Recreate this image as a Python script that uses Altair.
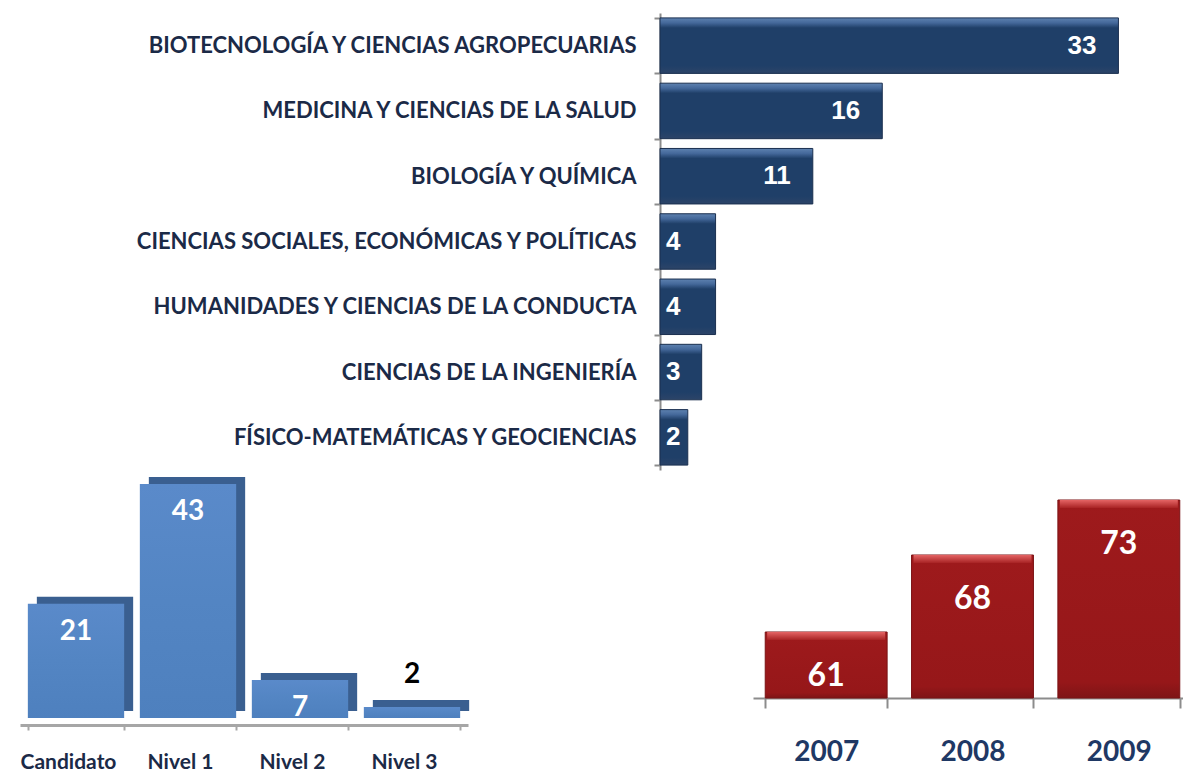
import altair as alt
import pandas as pd

# ---------------- data ----------------
areas = [
    "BIOTECNOLOGÍA Y CIENCIAS AGROPECUARIAS",
    "MEDICINA Y CIENCIAS DE LA SALUD",
    "BIOLOGÍA Y QUÍMICA",
    "CIENCIAS SOCIALES, ECONÓMICAS Y POLÍTICAS",
    "HUMANIDADES Y CIENCIAS DE LA CONDUCTA",
    "CIENCIAS DE LA INGENIERÍA",
    "FÍSICO-MATEMÁTICAS  Y GEOCIENCIAS",
]
area_counts = [33, 16, 11, 4, 4, 3, 2]

levels = ["Candidato", "Nivel 1", "Nivel 2", "Nivel 3"]
level_counts = [21, 43, 7, 2]

years = ["2007", "2008", "2009"]
year_counts = [61, 68, 73]

top_df = pd.DataFrame({"area": areas, "n_area": area_counts})
bl_df = pd.DataFrame({"level": levels, "n_level": level_counts})
br_df = pd.DataFrame({"year": years, "n_year": year_counts})

NAVY_TXT = "#1B2A47"


def vgrad(stops):
    return alt.Gradient(
        gradient="linear",
        stops=[alt.GradientStop(color=c, offset=o) for o, c in stops],
        x1=0, x2=0, y1=0, y2=1,
    )


navy = vgrad([(0, "#5E82B0"), (0.09, "#44689A"), (0.18, "#1F3F68"),
              (0.86, "#1F3F68"), (1, "#2C4468")])
blue_front = vgrad([(0, "#5A8ACA"), (0.5, "#5385C3"), (1, "#4E80BE")])
red = vgrad([(0, "#9E1A1C"), (0.92, "#961719"), (1, "#7E1416")])
red_hi = vgrad([(0, "#E46464"), (1, "#A82324")])

# ---------------- top: horizontal bars ----------------
ty = alt.Y(
    "area:N", sort=areas,
    scale=alt.Scale(range=[13, 470], paddingInner=0.15, paddingOuter=0.075),
    axis=alt.Axis(
        orient="left", offset=-660, title=None, grid=False,
        labelFont="Lato", labelFontWeight="bold", labelFontSize=22,
        labelColor=NAVY_TXT, labelPadding=18, labelLimit=0,
        tickBand="extent", tickSize=6, tickWidth=2, tickColor="#8C8C8C",
        domainColor="#8C8C8C", domainWidth=2,
    ),
)
x_scale_top = alt.Scale(domain=[0, 37], range=[660, 1174], nice=False)
tx = alt.X("n_area:Q", scale=x_scale_top, axis=None)
tx0 = alt.X("start:Q", scale=x_scale_top, axis=None)

top_bars = alt.Chart(top_df).mark_bar(
    color=navy, stroke="#1A2F4F", strokeWidth=1
).encode(x=tx, y=ty)
top_text_big = alt.Chart(top_df).transform_filter("datum.n_area >= 10").mark_text(
    align="right", baseline="middle", dx=-22, font="Liberation Sans",
    fontWeight="bold", fontSize=26, color="white"
).encode(x=tx, y=ty, text="n_area:Q")
top_text_small = alt.Chart(top_df).transform_filter(
    "datum.n_area < 10"
).transform_calculate(start="0").mark_text(
    align="left", baseline="middle", dx=6, font="Liberation Sans",
    fontWeight="bold", fontSize=26, color="white"
).encode(x=tx0, y=ty, text="n_area:Q")
top = alt.layer(top_bars, top_text_big, top_text_small)

# ---------------- bottom left: 3D-like columns ----------------
bx = alt.X(
    "level:N", sort=levels,
    scale=alt.Scale(range=[20, 468], paddingInner=0.14, paddingOuter=0.07),
    axis=alt.Axis(
        orient="bottom", offset=-46, title=None, labelAngle=0,
        labelFont="Lato", labelFontWeight="bold", labelFontSize=21,
        labelColor=NAVY_TXT, labelPadding=21, labelOffset=-8,
        tickBand="extent", tickSize=5, tickWidth=2, tickColor="#A6A6A6",
        domainColor="#A6A6A6", domainWidth=3, grid=False,
    ),
)
by = alt.Y("n_level:Q", scale=alt.Scale(domain=[0, 45], range=[718, 473]), axis=None)

bl_depth = alt.Chart(bl_df).mark_bar(
    color="#3A5F90", xOffset=9, yOffset=-7
).encode(x=bx, y=by)
bl_front = alt.Chart(bl_df).mark_bar(color=blue_front).encode(x=bx, y=by)
bl_text_in = alt.Chart(bl_df).transform_filter("datum.n_level >= 5").mark_text(
    baseline="middle", dy=28, font="Lato", fontWeight="bold", fontSize=28,
    color="white"
).encode(x=bx, y=by, text="n_level:Q")
bl_text_out = alt.Chart(bl_df).transform_filter("datum.n_level < 5").mark_text(
    baseline="middle", dy=-32, font="Lato", fontWeight="bold", fontSize=28,
    color="black"
).encode(x=bx, y=by, text="n_level:Q")
bl = alt.layer(bl_depth, bl_front, bl_text_in, bl_text_out)

# ---------------- bottom right: red columns ----------------
rx = alt.X(
    "year:N", sort=years,
    scale=alt.Scale(range=[753, 1192], paddingInner=0.167, paddingOuter=0.0835),
    axis=alt.Axis(
        orient="bottom", offset=-73, title=None, labelAngle=0,
        labelFont="Lato", labelFontWeight="bold", labelFontSize=28,
        labelColor="#1F3864", labelPadding=30,
        tickBand="extent", tickSize=10, tickWidth=2, tickColor="#8C8C8C",
        domainColor="#8C8C8C", domainWidth=2, grid=False,
    ),
)
ry = alt.Y("n_year:Q", scale=alt.Scale(domain=[55, 75], range=[698, 478], zero=False), axis=None)

br_bars = alt.Chart(br_df).mark_bar(
    color=red, stroke="#7A1214", strokeWidth=1
).encode(x=rx, y=ry, y2=alt.datum(55))
br_hi = alt.Chart(br_df).mark_tick(
    color=red_hi, thickness=8, size=118, yOffset=4, opacity=1
).encode(x=rx, y=ry)
br_text = alt.Chart(br_df).mark_text(
    baseline="middle", dy=44, font="Lato", fontWeight="bold", fontSize=32,
    color="white"
).encode(x=rx, y=ry, text="n_year:Q")
br = alt.layer(br_bars, br_hi, br_text)

chart = (
    alt.layer(top, bl, br)
    .resolve_scale(x="independent", y="independent")
    .resolve_axis(x="independent", y="independent")
    .properties(width=1183, height=771, padding=0,
                autosize=alt.AutoSizeParams(type="none"))
    .configure_view(stroke=None)
)

chart.save("out.html", embed_options={"renderer": "svg", "actions": False})
